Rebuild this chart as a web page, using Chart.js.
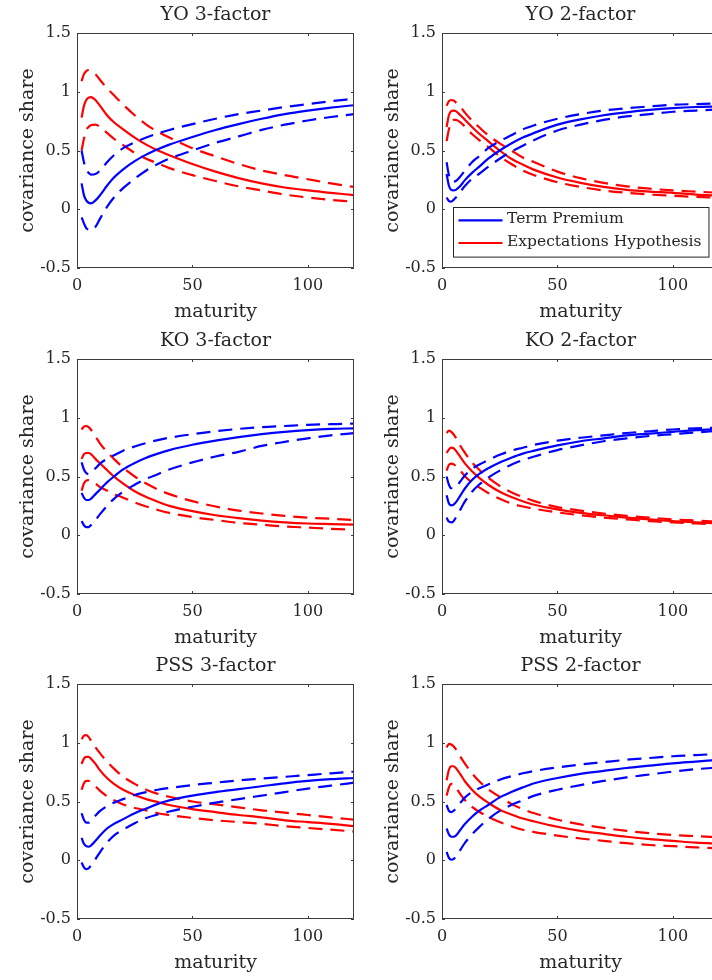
<!DOCTYPE html>
<html>
<head>
<meta charset="utf-8">
<script src="https://cdn.jsdelivr.net/npm/chart.js@4/dist/chart.umd.min.js"></script>
<style>
  html, body { margin: 0; padding: 0; background: #fff; overflow: hidden; }
  body { width: 712px; height: 980px; position: relative; }
  canvas { position: absolute; }
</style>
</head>
<body>
<canvas id="yo3" width="360" height="326" style="left:0;top:0"></canvas>
<canvas id="yo2" width="360" height="326" style="left:365px;top:0"></canvas>
<canvas id="ko3" width="360" height="326" style="left:0;top:326px"></canvas>
<canvas id="ko2" width="360" height="326" style="left:365px;top:326px"></canvas>
<canvas id="pss3" width="360" height="326" style="left:0;top:651px"></canvas>
<canvas id="pss2" width="360" height="326" style="left:365px;top:651px"></canvas>
<script>
// maturities (months) and axis ticks
var maturity = [2, 3, 4, 5, 6, 8, 10, 13, 16, 20, 25, 30, 35, 40, 50, 60, 70, 80, 90, 100, 110, 120];
var xTicks = [0, 50, 100];
var yTicks = [-0.5, 0, 0.5, 1, 1.5];
var yTickLabels = ['-0.5', '0', '0.5', '1', '1.5'];

// YO 3-factor
var yo3Tp   = [0.22, 0.12, 0.075, 0.055, 0.05, 0.075, 0.12, 0.20, 0.27, 0.34, 0.41, 0.465, 0.51, 0.55, 0.615, 0.675, 0.725, 0.77, 0.81, 0.84, 0.865, 0.885];
var yo3TpLo = [-0.07, -0.12, -0.16, -0.175, -0.18, -0.15, -0.08, 0.02, 0.10, 0.18, 0.26, 0.33, 0.385, 0.43, 0.50, 0.565, 0.62, 0.675, 0.72, 0.755, 0.785, 0.81];
var yo3TpHi = [0.50, 0.40, 0.34, 0.31, 0.295, 0.30, 0.33, 0.40, 0.46, 0.52, 0.57, 0.61, 0.645, 0.675, 0.725, 0.77, 0.81, 0.84, 0.87, 0.895, 0.92, 0.94];
var yo3Eh   = [0.78, 0.88, 0.93, 0.95, 0.955, 0.93, 0.88, 0.80, 0.74, 0.68, 0.61, 0.55, 0.50, 0.46, 0.385, 0.32, 0.265, 0.22, 0.185, 0.16, 0.14, 0.12];
var yo3EhLo = [0.50, 0.60, 0.67, 0.70, 0.715, 0.72, 0.70, 0.65, 0.60, 0.545, 0.48, 0.43, 0.39, 0.35, 0.29, 0.24, 0.195, 0.16, 0.125, 0.10, 0.08, 0.063];
var yo3EhHi = [1.09, 1.15, 1.175, 1.185, 1.18, 1.15, 1.10, 1.03, 0.97, 0.89, 0.80, 0.72, 0.66, 0.61, 0.52, 0.45, 0.385, 0.33, 0.29, 0.255, 0.22, 0.19];

// YO 2-factor
var yo2Tp   = [0.30, 0.20, 0.165, 0.16, 0.165, 0.20, 0.25, 0.31, 0.36, 0.43, 0.50, 0.56, 0.61, 0.65, 0.72, 0.765, 0.80, 0.825, 0.845, 0.86, 0.87, 0.875];
var yo2TpLo = [0.10, 0.07, 0.065, 0.08, 0.10, 0.15, 0.20, 0.26, 0.30, 0.36, 0.43, 0.49, 0.54, 0.59, 0.67, 0.72, 0.76, 0.79, 0.81, 0.83, 0.84, 0.85];
var yo2TpHi = [0.40, 0.29, 0.245, 0.235, 0.24, 0.28, 0.33, 0.40, 0.45, 0.52, 0.58, 0.63, 0.68, 0.715, 0.77, 0.81, 0.84, 0.86, 0.875, 0.89, 0.895, 0.90];
var yo2Eh   = [0.70, 0.80, 0.835, 0.84, 0.835, 0.80, 0.76, 0.70, 0.645, 0.58, 0.50, 0.43, 0.38, 0.335, 0.27, 0.225, 0.19, 0.165, 0.15, 0.14, 0.125, 0.115];
var yo2EhLo = [0.58, 0.68, 0.74, 0.76, 0.76, 0.74, 0.70, 0.64, 0.59, 0.53, 0.45, 0.385, 0.33, 0.29, 0.23, 0.19, 0.16, 0.14, 0.125, 0.115, 0.105, 0.10];
var yo2EhHi = [0.88, 0.92, 0.93, 0.925, 0.91, 0.87, 0.82, 0.755, 0.70, 0.63, 0.56, 0.50, 0.44, 0.40, 0.32, 0.265, 0.225, 0.195, 0.175, 0.16, 0.15, 0.14];

// KO 3-factor
var ko3Tp   = [0.36, 0.32, 0.30, 0.30, 0.31, 0.35, 0.39, 0.45, 0.50, 0.56, 0.615, 0.66, 0.695, 0.725, 0.77, 0.805, 0.835, 0.86, 0.88, 0.895, 0.905, 0.91];
var ko3TpLo = [0.12, 0.085, 0.07, 0.07, 0.085, 0.13, 0.18, 0.25, 0.31, 0.37, 0.43, 0.48, 0.52, 0.56, 0.62, 0.67, 0.71, 0.76, 0.795, 0.825, 0.85, 0.87];
var ko3TpHi = [0.62, 0.56, 0.53, 0.52, 0.53, 0.57, 0.61, 0.65, 0.68, 0.72, 0.755, 0.785, 0.81, 0.83, 0.86, 0.885, 0.905, 0.92, 0.93, 0.94, 0.945, 0.95];
var ko3Eh   = [0.65, 0.69, 0.70, 0.70, 0.69, 0.65, 0.61, 0.555, 0.50, 0.44, 0.375, 0.325, 0.285, 0.25, 0.205, 0.17, 0.145, 0.125, 0.11, 0.10, 0.095, 0.09];
var ko3EhLo = [0.38, 0.44, 0.465, 0.47, 0.465, 0.44, 0.41, 0.38, 0.35, 0.32, 0.28, 0.245, 0.215, 0.19, 0.155, 0.13, 0.105, 0.09, 0.075, 0.065, 0.055, 0.048];
var ko3EhHi = [0.90, 0.925, 0.93, 0.92, 0.90, 0.84, 0.78, 0.71, 0.65, 0.575, 0.50, 0.44, 0.39, 0.35, 0.29, 0.245, 0.21, 0.185, 0.165, 0.15, 0.14, 0.13];

// KO 2-factor
var ko2Tp   = [0.34, 0.27, 0.255, 0.26, 0.28, 0.34, 0.40, 0.47, 0.52, 0.57, 0.62, 0.66, 0.695, 0.72, 0.765, 0.80, 0.825, 0.85, 0.865, 0.88, 0.895, 0.905];
var ko2TpLo = [0.15, 0.115, 0.11, 0.12, 0.15, 0.22, 0.29, 0.37, 0.43, 0.49, 0.55, 0.60, 0.64, 0.67, 0.725, 0.765, 0.80, 0.825, 0.845, 0.86, 0.875, 0.89];
var ko2TpHi = [0.50, 0.43, 0.40, 0.40, 0.41, 0.46, 0.51, 0.565, 0.60, 0.64, 0.685, 0.72, 0.745, 0.77, 0.805, 0.83, 0.85, 0.87, 0.885, 0.90, 0.91, 0.915];
var ko2Eh   = [0.70, 0.73, 0.745, 0.74, 0.72, 0.665, 0.61, 0.545, 0.49, 0.43, 0.37, 0.325, 0.29, 0.26, 0.22, 0.19, 0.17, 0.15, 0.135, 0.12, 0.11, 0.10];
var ko2EhLo = [0.55, 0.60, 0.61, 0.605, 0.59, 0.55, 0.50, 0.45, 0.41, 0.36, 0.31, 0.27, 0.245, 0.225, 0.195, 0.17, 0.15, 0.135, 0.12, 0.11, 0.10, 0.09];
var ko2EhHi = [0.87, 0.89, 0.88, 0.86, 0.83, 0.76, 0.70, 0.62, 0.56, 0.49, 0.42, 0.365, 0.325, 0.29, 0.24, 0.21, 0.185, 0.165, 0.15, 0.135, 0.125, 0.115];

// PSS 3-factor
var pss3Tp   = [0.19, 0.14, 0.12, 0.115, 0.125, 0.165, 0.21, 0.27, 0.31, 0.35, 0.40, 0.44, 0.48, 0.51, 0.55, 0.58, 0.605, 0.63, 0.655, 0.675, 0.69, 0.70];
var pss3TpLo = [-0.02, -0.06, -0.075, -0.07, -0.045, 0.01, 0.07, 0.15, 0.21, 0.26, 0.315, 0.36, 0.39, 0.415, 0.455, 0.49, 0.52, 0.55, 0.58, 0.61, 0.635, 0.66];
var pss3TpHi = [0.40, 0.345, 0.32, 0.32, 0.335, 0.38, 0.42, 0.46, 0.49, 0.52, 0.555, 0.58, 0.60, 0.615, 0.64, 0.66, 0.68, 0.695, 0.71, 0.725, 0.74, 0.755];
var pss3Eh   = [0.82, 0.865, 0.88, 0.88, 0.865, 0.82, 0.765, 0.70, 0.65, 0.60, 0.555, 0.52, 0.495, 0.47, 0.435, 0.41, 0.385, 0.365, 0.34, 0.325, 0.31, 0.29];
var pss3EhLo = [0.60, 0.655, 0.675, 0.675, 0.665, 0.63, 0.59, 0.545, 0.51, 0.475, 0.445, 0.425, 0.40, 0.385, 0.36, 0.34, 0.325, 0.31, 0.29, 0.275, 0.26, 0.245];
var pss3EhHi = [1.03, 1.06, 1.065, 1.05, 1.02, 0.96, 0.91, 0.84, 0.78, 0.71, 0.65, 0.60, 0.565, 0.54, 0.50, 0.475, 0.45, 0.425, 0.405, 0.385, 0.365, 0.345];

// PSS 2-factor
var pss2Tp   = [0.27, 0.22, 0.20, 0.20, 0.21, 0.26, 0.31, 0.37, 0.42, 0.47, 0.535, 0.58, 0.62, 0.655, 0.70, 0.735, 0.76, 0.785, 0.805, 0.825, 0.84, 0.855];
var pss2TpLo = [0.07, 0.02, 0.005, 0.01, 0.03, 0.09, 0.15, 0.22, 0.28, 0.35, 0.42, 0.47, 0.51, 0.55, 0.60, 0.64, 0.675, 0.705, 0.73, 0.755, 0.775, 0.79];
var pss2TpHi = [0.47, 0.42, 0.41, 0.42, 0.44, 0.49, 0.535, 0.58, 0.61, 0.645, 0.685, 0.715, 0.74, 0.76, 0.79, 0.815, 0.835, 0.855, 0.87, 0.885, 0.895, 0.905];
var pss2Eh   = [0.68, 0.77, 0.80, 0.80, 0.785, 0.73, 0.67, 0.60, 0.545, 0.49, 0.43, 0.39, 0.355, 0.33, 0.285, 0.25, 0.225, 0.20, 0.18, 0.165, 0.15, 0.14];
var pss2EhLo = [0.55, 0.62, 0.65, 0.645, 0.62, 0.56, 0.51, 0.455, 0.415, 0.37, 0.325, 0.29, 0.26, 0.24, 0.21, 0.185, 0.165, 0.145, 0.13, 0.12, 0.11, 0.10];
var pss2EhHi = [0.96, 0.99, 0.985, 0.97, 0.945, 0.88, 0.82, 0.74, 0.675, 0.605, 0.54, 0.48, 0.435, 0.40, 0.345, 0.305, 0.275, 0.25, 0.23, 0.215, 0.205, 0.195];

var ink = '#262626';
var blue = '#0000ff';
var red = '#ff0000';

Chart.defaults.font.family = "'DejaVu Serif', serif";
Chart.defaults.color = ink;

// axes box with inward ticks on all four sides
var axesBox = {
  id: 'axesBox',
  afterDatasetsDraw: function(chart) {
    var ctx = chart.ctx, a = chart.chartArea, x = chart.scales.x, y = chart.scales.y;
    ctx.save();
    ctx.strokeStyle = '#3c3c3c';
    ctx.lineWidth = 1;
    ctx.setLineDash([]);
    ctx.beginPath();
    ctx.rect(a.left + 0.5, a.top + 0.5, a.right - a.left - 1, a.bottom - a.top - 1);
    x.ticks.forEach(function(t) {
      var px = Math.round(x.getPixelForValue(t.value)) + 0.5;
      ctx.moveTo(px, a.bottom); ctx.lineTo(px, a.bottom - 3);
      ctx.moveTo(px, a.top); ctx.lineTo(px, a.top + 3);
    });
    y.ticks.forEach(function(t) {
      var py = Math.round(y.getPixelForValue(t.value)) + 0.5;
      ctx.moveTo(a.left, py); ctx.lineTo(a.left + 3, py);
      ctx.moveTo(a.right, py); ctx.lineTo(a.right - 3, py);
    });
    ctx.stroke();
    ctx.restore();
  }
};

// boxed legend in the lower left of the plot area
var boxLegend = {
  id: 'boxLegend',
  afterDraw: function(chart) {
    var ctx = chart.ctx, a = chart.chartArea;
    var items = chart.data.datasets.filter(function(d) { return d.label; });
    ctx.save();
    ctx.font = "15.5px 'DejaVu Serif'";
    var textW = Math.max.apply(null, items.map(function(d) { return ctx.measureText(d.label).width; }));
    var rowH = 22.7;
    var w = 54 + textW + 7, h = 26.9 + (items.length - 1) * rowH;
    var x0 = Math.round(a.left + 11), y0 = Math.round(a.bottom - 11 - h);
    ctx.fillStyle = '#fff';
    ctx.fillRect(x0, y0, w, h);
    ctx.strokeStyle = ink;
    ctx.lineWidth = 1;
    ctx.strokeRect(x0 + 0.5, y0 + 0.5, w, h);
    items.forEach(function(d, i) {
      var yy = y0 + 13.3 + i * rowH;
      ctx.strokeStyle = d.borderColor;
      ctx.lineWidth = 2.2;
      ctx.beginPath();
      ctx.moveTo(x0 + 5.5, yy);
      ctx.lineTo(x0 + 49.5, yy);
      ctx.stroke();
      ctx.fillStyle = ink;
      ctx.textBaseline = 'middle';
      ctx.fillText(d.label, x0 + 54, yy - 1);
    });
    ctx.restore();
  }
};

function series(values, color, dashed, label) {
  return {
    label: label,
    data: maturity.map(function(m, i) { return { x: m, y: values[i] }; }),
    borderColor: color,
    borderWidth: 2.2,
    borderDash: dashed ? [14, 8] : [],
    pointRadius: 0,
    fill: false,
    cubicInterpolationMode: 'monotone'
  };
}

function panel(id, title, tp, tpLo, tpHi, eh, ehLo, ehHi, withLegend) {
  var plugins = [axesBox];
  if (withLegend) plugins.push(boxLegend);
  new Chart(document.getElementById(id), {
    type: 'line',
    data: {
      datasets: [
        series(tp, blue, false, 'Term Premium'),
        series(tpLo, blue, true),
        series(tpHi, blue, true),
        series(eh, red, false, 'Expectations Hypothesis'),
        series(ehLo, red, true),
        series(ehHi, red, true)
      ]
    },
    options: {
      responsive: false,
      animation: false,
      layout: { padding: { left: 0, right: 6, top: 0, bottom: 0 } },
      plugins: {
        legend: { display: false },
        tooltip: { enabled: false },
        title: {
          display: true,
          text: title,
          fullSize: false,
          color: ink,
          font: { size: 19, weight: 'normal' },
          padding: { top: 3.6, bottom: 6.6 }
        }
      },
      scales: {
        x: {
          type: 'linear',
          min: 0,
          max: 120,
          afterBuildTicks: function(s) { s.ticks = xTicks.map(function(v) { return { value: v }; }); },
          afterFit: function(s) { s.height = 58; },
          grid: { display: false, drawTicks: false },
          border: { display: false },
          ticks: { padding: 8, font: { size: 16 }, color: ink, maxRotation: 0, autoSkip: false },
          title: { display: true, text: 'maturity', color: ink, font: { size: 19 }, padding: { top: 0, bottom: 3 } }
        },
        y: {
          type: 'linear',
          min: -0.5,
          max: 1.5,
          afterBuildTicks: function(s) { s.ticks = yTicks.map(function(v) { return { value: v }; }); },
          afterFit: function(s) { s.width = 77; },
          grid: { display: false, drawTicks: false },
          border: { display: false },
          ticks: {
            padding: 6,
            font: { size: 16 },
            color: ink,
            autoSkip: false,
            callback: function(v, i) { return yTickLabels[i]; }
          },
          title: { display: true, text: 'covariance share', color: ink, font: { size: 19 }, padding: { top: 17, bottom: 0 } }
        }
      }
    },
    plugins: plugins
  });
}

panel('yo3', 'YO 3-factor', yo3Tp, yo3TpLo, yo3TpHi, yo3Eh, yo3EhLo, yo3EhHi, false);
panel('yo2', 'YO 2-factor', yo2Tp, yo2TpLo, yo2TpHi, yo2Eh, yo2EhLo, yo2EhHi, true);
panel('ko3', 'KO 3-factor', ko3Tp, ko3TpLo, ko3TpHi, ko3Eh, ko3EhLo, ko3EhHi, false);
panel('ko2', 'KO 2-factor', ko2Tp, ko2TpLo, ko2TpHi, ko2Eh, ko2EhLo, ko2EhHi, false);
panel('pss3', 'PSS 3-factor', pss3Tp, pss3TpLo, pss3TpHi, pss3Eh, pss3EhLo, pss3EhHi, false);
panel('pss2', 'PSS 2-factor', pss2Tp, pss2TpLo, pss2TpHi, pss2Eh, pss2EhLo, pss2EhHi, false);
</script>
</body>
</html>
